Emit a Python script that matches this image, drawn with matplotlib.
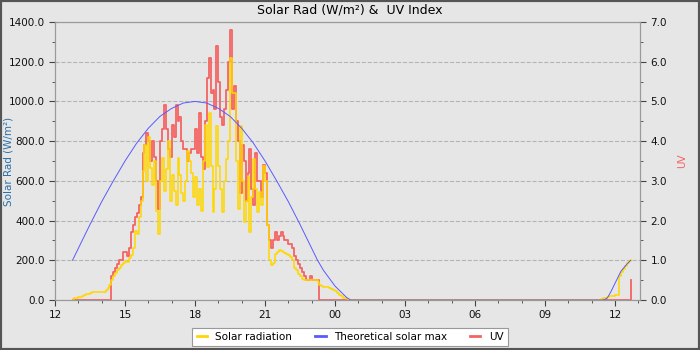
import numpy as np
import pandas as pd
import matplotlib
matplotlib.use("Agg")
import matplotlib.pyplot as plt
import matplotlib.dates as mdates
from matplotlib.ticker import MultipleLocator, FormatStrFormatter
from matplotlib.patches import Rectangle
from matplotlib.lines import Line2D

# 5-minute readings, 12:45 -> 00:45
day_start = "2024-06-01 12:45"
solar_day = [
    5, 8, 10, 14, 17, 20, 24, 28, 32, 36, 38, 40,
    40, 40, 40, 40, 42, 50, 60, 75, 100, 120, 135, 150,
    160, 175, 185, 195, 190, 210, 225, 260, 350, 330, 420, 500,
    650, 780, 600, 820, 667, 580, 700, 450, 333, 600, 717, 550,
    660, 800, 500, 630, 550, 480, 717, 630, 540, 500, 600, 750,
    700, 640, 520, 620, 480, 560, 450, 700, 880, 670, 940, 675,
    442, 560, 875, 675, 560, 442, 600, 708, 800, 1220, 1040, 1040,
    700, 458, 875, 600, 392, 500, 625, 342, 520, 708, 560, 442,
    542, 480, 675, 600, 380, 200, 175, 185, 230, 242, 250, 248,
    240, 235, 230, 225, 217, 200, 160, 150, 133, 120, 108, 100,
    100, 100, 100, 100, 100, 100, 90, 75, 70, 67, 67, 67,
    60, 55, 50, 45, 35, 25, 20, 12, 8, 4, 2, 0,
    0,
]
uv_day = [
    0, 0, 0, 0, 0, 0, 0, 0, 0, 0, 0, 0,
    0, 0, 0, 0, 0, 0, 0, 0, 0.6, 0.7, 0.8, 0.9,
    1.0, 1.0, 1.2, 1.2, 1.1, 1.3, 1.7, 1.9, 2.1, 2.2, 2.4, 2.6,
    3.7, 3.9, 4.2, 4.0, 3.5, 4.0, 3.6, 3.0, 2.3, 4.0, 4.3, 4.9,
    4.3, 3.8, 3.6, 4.4, 4.1, 4.9, 4.5, 4.6, 4.0, 3.8, 3.8, 3.5,
    3.7, 3.8, 3.8, 4.3, 3.7, 4.7, 3.6, 3.3, 4.5, 5.6, 6.1, 5.2,
    5.3, 4.8, 6.4, 5.5, 4.6, 4.4, 4.8, 5.3, 6.0, 6.8, 4.8, 5.4,
    4.5, 4.0, 2.7, 3.9, 3.5, 2.5, 3.2, 3.8, 2.8, 2.4, 3.7, 3.0,
    3.0, 2.6, 3.4, 3.2, 1.9, 1.5, 1.3, 1.5, 1.7, 1.5, 1.6, 1.7,
    1.6, 1.5, 1.5, 1.4, 1.4, 1.3, 1.1, 1.0, 0.9, 0.8, 0.7, 0.6,
    0.5, 0.5, 0.6, 0.5, 0.5, 0.5, 0.5, 0, 0, 0, 0, 0,
    0, 0, 0, 0, 0, 0, 0, 0, 0, 0, 0, 0,
    0,
]

# 5-minute readings, next morning 11:20 -> 12:40
morning_start = "2024-06-02 11:20"
solar_morning = [0, 5, 10, 12, 15, 18, 20, 22, 25, 27, 120, 140, 155, 170, 185, 195, 200]
uv_morning = [0, 0, 0, 0, 0, 0, 0, 0, 0, 0, 0, 0, 0, 0, 0, 0, 0.5]

theo_times = [
    "2024-06-01 12:45", "2024-06-01 13:00", "2024-06-01 13:30", "2024-06-01 14:00",
    "2024-06-01 14:30", "2024-06-01 15:00", "2024-06-01 15:30", "2024-06-01 16:00",
    "2024-06-01 16:30", "2024-06-01 17:00", "2024-06-01 17:30", "2024-06-01 18:00",
    "2024-06-01 18:30", "2024-06-01 19:00", "2024-06-01 19:30", "2024-06-01 20:00",
    "2024-06-01 20:30", "2024-06-01 21:00", "2024-06-01 21:30", "2024-06-01 22:00",
    "2024-06-01 22:30", "2024-06-01 23:00", "2024-06-01 23:15", "2024-06-01 23:30",
    "2024-06-02 00:00", "2024-06-02 00:30", "2024-06-02 00:40",
    "2024-06-02 11:30", "2024-06-02 11:40", "2024-06-02 11:50", "2024-06-02 12:00",
    "2024-06-02 12:15", "2024-06-02 12:30", "2024-06-02 12:40",
]
theo_max = [
    200, 260, 380, 495, 600, 700, 790, 865, 925, 965, 992, 1000,
    992, 965, 925, 865, 790, 700, 600, 495, 380, 260, 200, 150,
    70, 12, 0,
    0, 10, 45, 85, 145, 180, 200,
]

t_day = pd.date_range(day_start, periods=len(solar_day), freq="5min")
t_morning = pd.date_range(morning_start, periods=len(solar_morning), freq="5min")
t_all = t_day.append(t_morning)
solar = solar_day + solar_morning
uv = uv_day + uv_morning
t_theo = pd.to_datetime(theo_times)

bg = "#e6e6e6"
c_solar = "#ffd700"
c_theo = "#5a5aff"
c_uv = "#f46464"

fig = plt.figure(figsize=(7, 3.5), dpi=100, facecolor=bg)
ax1 = fig.add_axes([55 / 700, 50 / 350, 585 / 700, 278 / 350])
ax2 = ax1.twinx()
ax1.set_zorder(ax2.get_zorder() + 1)
ax1.patch.set_visible(False)
ax2.set_facecolor(bg)

ax2.plot(t_all, uv, color=c_uv, lw=1.3, drawstyle="steps-post")
ax1.plot(t_all, solar, color=c_solar, lw=1.1, drawstyle="steps-post")
ax1.plot(t_theo, theo_max, color=c_theo, lw=0.7)

ax1.set_xlim(pd.Timestamp("2024-06-01 12:00"), pd.Timestamp("2024-06-02 13:04"))
ax1.set_ylim(0, 1400)
ax2.set_ylim(0, 7)

ax1.xaxis.set_major_locator(mdates.HourLocator(byhour=range(0, 24, 3)))
ax1.xaxis.set_minor_locator(mdates.HourLocator())
ax1.xaxis.set_major_formatter(mdates.DateFormatter("%H"))
ax1.yaxis.set_major_locator(MultipleLocator(200))
ax1.yaxis.set_minor_locator(MultipleLocator(100))
ax1.yaxis.set_major_formatter(FormatStrFormatter("%.1f"))
ax2.yaxis.set_major_locator(MultipleLocator(1))
ax2.yaxis.set_minor_locator(MultipleLocator(0.5))
ax2.yaxis.set_major_formatter(FormatStrFormatter("%.1f"))

ax2.grid(True, which="major", axis="y", color="#b4b4b4", ls="--", lw=0.8)
ax2.xaxis.grid(True, which="major", color="#b4b4b4", ls="--", lw=0.8)

for ax in (ax1, ax2):
    for s in ax.spines.values():
        s.set_color("#999999")
    ax.tick_params(which="major", length=4, color="#444444", labelsize=7.5, labelcolor="#111111")
    ax.tick_params(which="minor", length=2.5, color="#444444")

ax1.set_ylabel("Solar Rad (W/m²)", color="#2a70a8", fontsize=7.5)
ax1.yaxis.set_label_coords(-41 / 585, 0.5)
ax2.set_ylabel("UV", color=c_uv, fontsize=7.5)
ax2.yaxis.set_label_coords(1 + 37 / 585, 0.5)
fig.text(350 / 700, 1 - 10 / 350, "Solar Rad (W/m²) &  UV Index", ha="center", va="center", fontsize=9)

handles = [
    Line2D([], [], color=c_solar, lw=2),
    Line2D([], [], color=c_theo, lw=2),
    Line2D([], [], color=c_uv, lw=2),
]
leg = fig.legend(handles, ["Solar radiation", "Theoretical solar max", "UV"],
                 loc="center", bbox_to_anchor=(0.5, 13 / 350), ncol=3, fontsize=7.5,
                 frameon=True, fancybox=False, framealpha=1, edgecolor="#999999",
                 handlelength=1.0, columnspacing=2.2, borderpad=0.4, handletextpad=0.8)
leg.get_frame().set_linewidth(0.8)

fig.patches.append(Rectangle((0, 0), 1, 1, transform=fig.transFigure, fill=False,
                             edgecolor="#555555", linewidth=3))

fig.savefig("out.png", dpi=100, facecolor=bg)
